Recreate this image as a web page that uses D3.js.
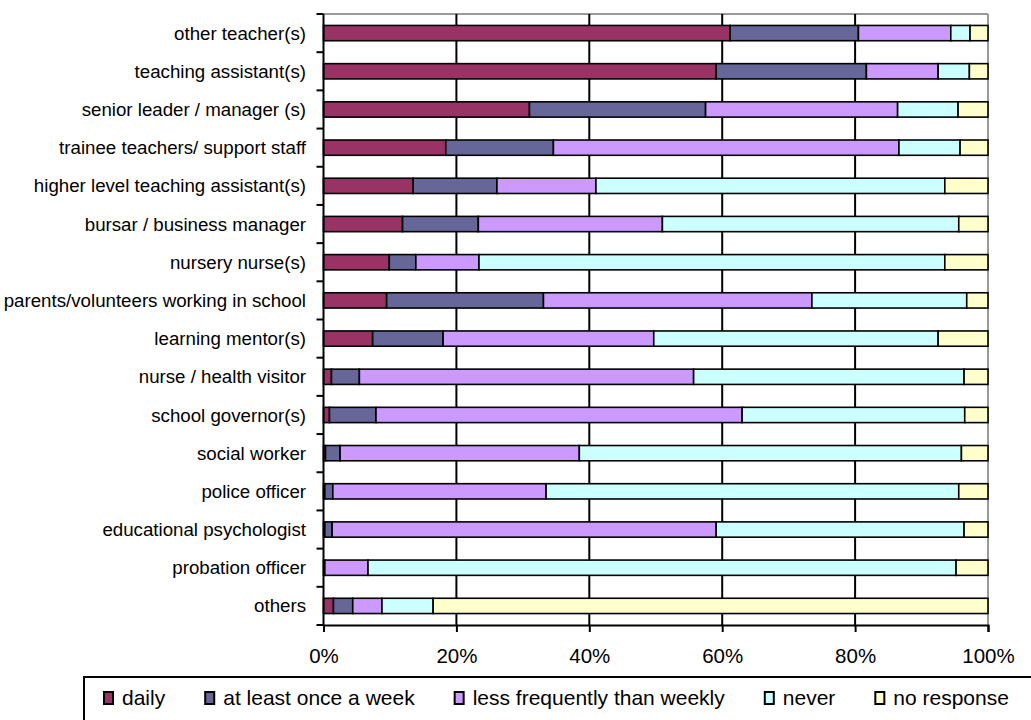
<!DOCTYPE html>
<html><head><meta charset="utf-8">
<script src="https://cdn.jsdelivr.net/npm/d3@7"></script>
<style>body{margin:0;background:#fff}svg{display:block}text{font-family:"Liberation Sans",Arial,sans-serif;fill:#000}</style>
</head><body>
<script>
const categories = ["other teacher(s)","teaching assistant(s)","senior leader / manager (s)","trainee teachers/ support staff","higher level teaching assistant(s)","bursar / business manager","nursery nurse(s)","parents/volunteers working in school","learning mentor(s)","nurse / health visitor","school governor(s)","social worker","police officer","educational psychologist","probation officer","others"];
const seriesNames = ["daily","at least once a week","less frequently than weekly","never","no response"];
const daily     = [61.2,59.1,31.0,18.4,13.5,11.9,9.9,9.5,7.4,1.2,0.9,0.3,0.2,0.2,0.0,1.5];
const weekly    = [19.3,22.6,26.5,16.2,12.6,11.4,4.0,23.6,10.6,4.2,7.0,2.2,1.2,1.1,0.2,2.9];
const lessFreq  = [13.9,10.8,28.9,52.0,14.9,27.7,9.5,40.4,31.7,50.3,55.1,36.0,32.1,57.8,6.5,4.4];
const never     = [2.9,4.7,9.1,9.2,52.5,44.6,70.1,23.3,42.8,40.7,33.5,57.5,62.1,37.3,88.5,7.7];
const noResp    = [2.7,2.8,4.5,4.2,6.5,4.4,6.5,3.2,7.5,3.6,3.5,4.0,4.4,3.6,4.8,83.5];
const tickValues = [0,20,40,60,80,100];
const colors = ["#993366","#666699","#CC99FF","#CCFFFF","#FFFFCC"];

(function(){
const W=1031,H=720;
const svg=d3.select("body").append("svg").attr("width",W).attr("height",H);
const pL=323.5,pR=988,pT=14,pB=625;
const x=d3.scaleLinear().domain([0,100]).range([pL,pR]);
const y=d3.scaleBand().domain(categories).range([pT,pB]).paddingInner(0.6).paddingOuter(0.3);

const rows=categories.map((c,i)=>{const o={cat:c};[daily,weekly,lessFreq,never,noResp].forEach((a,j)=>o[seriesNames[j]]=a[i]);return o;});
const stacked=d3.stack().keys(seriesNames)(rows);

svg.append("line").attr("x1",pL).attr("x2",pR).attr("y1",pT).attr("y2",pT).attr("stroke","#999").attr("stroke-width",2);
svg.append("line").attr("x1",pR).attr("x2",pR).attr("y1",pT).attr("y2",pB).attr("stroke","#999").attr("stroke-width",2);

svg.append("g").selectAll("line").data(tickValues.filter(v=>v>0&&v<100)).join("line")
  .attr("x1",d=>x(d)).attr("x2",d=>x(d)).attr("y1",pT).attr("y2",pB)
  .attr("stroke","#000").attr("stroke-width",2);

svg.append("g").selectAll("g").data(stacked).join("g").attr("fill",(d,i)=>colors[i])
  .selectAll("rect").data(d=>d.filter(s=>s[1]-s[0]>0)).join("rect")
  .attr("x",d=>x(d[0])).attr("width",d=>x(d[1])-x(d[0]))
  .attr("y",d=>y(d.data.cat)).attr("height",y.bandwidth())
  .attr("stroke","#000").attr("stroke-width",1.6);

const xAxis=d3.axisBottom(x).tickValues(tickValues).tickFormat(d=>d+"%").tickSize(7).tickPadding(16);
const gx=svg.append("g").attr("transform",`translate(0,${pB})`).call(xAxis);
gx.select(".domain").attr("stroke","#000").attr("stroke-width",2);
gx.selectAll(".tick line").attr("stroke","#000").attr("stroke-width",2);
gx.selectAll("text").style("font-size","20.5px").style("font-family","'Liberation Sans',Arial,sans-serif").attr("fill","#000");

svg.append("line").attr("x1",pL).attr("x2",pL).attr("y1",pT).attr("y2",pB).attr("stroke","#000").attr("stroke-width",2);
const step=y.step();
svg.append("g").selectAll("line").data(d3.range(categories.length+1)).join("line")
  .attr("x1",pL-7).attr("x2",pL).attr("y1",i=>pT+i*step).attr("y2",i=>pT+i*step)
  .attr("stroke","#000").attr("stroke-width",2);
svg.append("g").selectAll("text").data(categories).join("text")
  .attr("x",306).attr("y",d=>y(d)+y.bandwidth()/2).attr("dy","0.35em")
  .attr("text-anchor","end").style("font-size","18.7px").text(d=>d);

svg.append("rect").attr("x",84).attr("y",677).attr("width",W).attr("height",60)
  .attr("fill","#fff").attr("stroke","#000").attr("stroke-width",2);
let lx=104;
seriesNames.forEach((n,i)=>{
  svg.append("rect").attr("x",lx).attr("y",692).attr("width",9).attr("height",12)
    .attr("fill",colors[i]).attr("stroke","#000").attr("stroke-width",2);
  const t=svg.append("text").attr("x",lx+18).attr("y",705).style("font-size","21px").text(n);
  lx+=18+t.node().getComputedTextLength()+40;
});
})();
</script>
</body></html>
